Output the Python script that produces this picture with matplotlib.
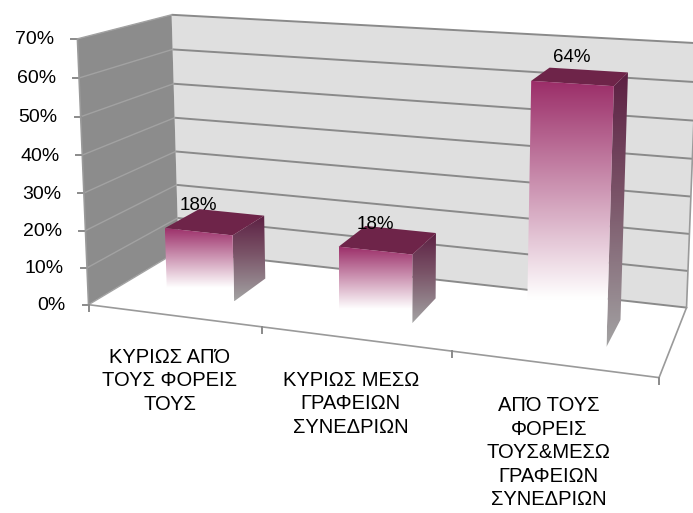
import numpy as np
import matplotlib
matplotlib.use("Agg")
import matplotlib.pyplot as plt
from matplotlib.colors import to_rgb
from matplotlib.patches import Polygon

categories = ["ΚΥΡΙΩΣ ΑΠΌ\nΤΟΥΣ ΦΟΡΕΙΣ\nΤΟΥΣ",
              "ΚΥΡΙΩΣ ΜΕΣΩ\nΓΡΑΦΕΙΩΝ\nΣΥΝΕΔΡΙΩΝ",
              "ΑΠΌ ΤΟΥΣ\nΦΟΡΕΙΣ\nΤΟΥΣ&ΜΕΣΩ\nΓΡΑΦΕΙΩΝ\nΣΥΝΕΔΡΙΩΝ"]
values = [18, 18, 64]
value_labels = ["18%", "18%", "64%"]
y_ticks = [0, 10, 20, 30, 40, 50, 60, 70]
y_tick_labels = ["0%", "10%", "20%", "30%", "40%", "50%", "60%", "70%"]

# perspective camera: (category, value %, depth) -> figure pixels
CAMERA = np.array([
    [162.6846, -0.1974603, 113.1856, 88.55268],
    [8.556916, -3.817204, -21.30108, 304.6852],
    [-0.04170679, -0.0004969884, 0.1298859, 1.0],
])

FONT = "Liberation Sans"


def proj(x, y, z):
    h = CAMERA @ np.array([x, y, z, 1.0])
    return h[0] / h[2], h[1] / h[2]


fig = plt.figure(figsize=(6.93, 5.13), dpi=100)
ax = fig.add_axes([0, 0, 1, 1])
ax.axis("off")

n = len(values)
ymax = y_ticks[-1]


def face(pts, **kw):
    poly = Polygon([proj(*p) for p in pts], closed=True, **kw)
    ax.add_patch(poly)
    return poly


def grad_face(pts, stops, z=3):
    """Polygon filled with a top-to-bottom colour ramp."""
    xy = np.array([proj(*p) for p in pts])
    poly = Polygon(xy, closed=True, facecolor="none", edgecolor="none", zorder=z)
    ax.add_patch(poly)
    t = np.linspace(0, 1, 200)
    pos = [s[0] for s in stops]
    cols = np.array([to_rgb(s[1]) for s in stops])
    img = np.stack([np.interp(t, pos, cols[:, k]) for k in range(3)], axis=-1)[:, None, :]
    im = ax.imshow(img, extent=(xy[:, 0].min(), xy[:, 0].max(), xy[:, 1].max(), xy[:, 1].min()),
                   origin="upper", aspect="auto", zorder=z, interpolation="bilinear")
    im.set_clip_path(poly)


# back wall, side wall, floor
face([(0, 0, 1), (n, 0, 1), (n, ymax, 1), (0, ymax, 1)], facecolor="#dfdfdf", edgecolor="none", zorder=1)
face([(0, 0, 0), (0, 0, 1), (0, ymax, 1), (0, ymax, 0)], facecolor="#8c8c8c", edgecolor="none", zorder=1)
face([(0, 0, 0), (n, 0, 0), (n, 0, 1), (0, 0, 1)], facecolor="white", edgecolor="none", zorder=1)

# gridlines + y ticks
for t in y_ticks:
    xs, ys = zip(proj(0, t, 1), proj(n, t, 1))
    ax.plot(xs, ys, color="#8a8a8a", lw=1.4, zorder=2, solid_capstyle="butt")
    xs, ys = zip(proj(0, t, 0), proj(0, t, 1))
    ax.plot(xs, ys, color="#a2a2a2", lw=1.0, zorder=2)
    u, v = proj(0, t, 0)
    ax.plot([u - 6, u], [v, v], color="#8a8a8a", lw=1.4, zorder=2)

for a, b in [((0, 0, 0), (n, 0, 0)), ((n, 0, 0), (n, 0, 1)), ((n, 0, 1), (n, ymax, 1)),
             ((0, 0, 0), (0, ymax, 0))]:
    xs, ys = zip(proj(*a), proj(*b))
    ax.plot(xs, ys, color="#9a9a9a", lw=1.2, zorder=2)

for i in range(n + 1):
    u, v = proj(i, 0, 0)
    ax.plot([u, u], [v, v + 6], color="#8a8a8a", lw=1.4, zorder=2)

# columns
half = 0.2
z0, z1 = 0.3, 0.7
for i, val in enumerate(values):
    x0, x1 = i + 0.5 - half, i + 0.5 + half
    grad_face([(x1, 0, z0), (x1, 0, z1), (x1, val, z1), (x1, val, z0)],
              [(0, "#5c1f42"), (0.45, "#7a5468"), (1, "#a3a3a3")])
    face([(x0, val, z0), (x1, val, z0), (x1, val, z1), (x0, val, z1)],
         facecolor="#6e2449", edgecolor="none", zorder=3)
    grad_face([(x0, 0, z0), (x1, 0, z0), (x1, val, z0), (x0, val, z0)],
              [(0, "#9b2d68"), (0.82, "#ffffff"), (1, "#ffffff")])
    u, v = proj(i + 0.5, val, z0)
    ax.text(u, v - 26, value_labels[i], ha="center", va="center", fontsize=13.5,
            family=FONT, zorder=5)

for t, lab in zip(y_ticks, y_tick_labels):
    u, v = proj(0, t, 0)
    ax.text(u - 23, v + 1, lab, ha="right", va="center", fontsize=14, family=FONT)

for i, lab in enumerate(categories):
    u, v = proj(i + 0.5, 0, 0)
    ax.text(u - 4, v + 32, lab, ha="center", va="top", fontsize=14.5, family=FONT,
            linespacing=1.3)

ax.set_xlim(0, 693)
ax.set_ylim(513, 0)
fig.savefig("out.png", dpi=100)
